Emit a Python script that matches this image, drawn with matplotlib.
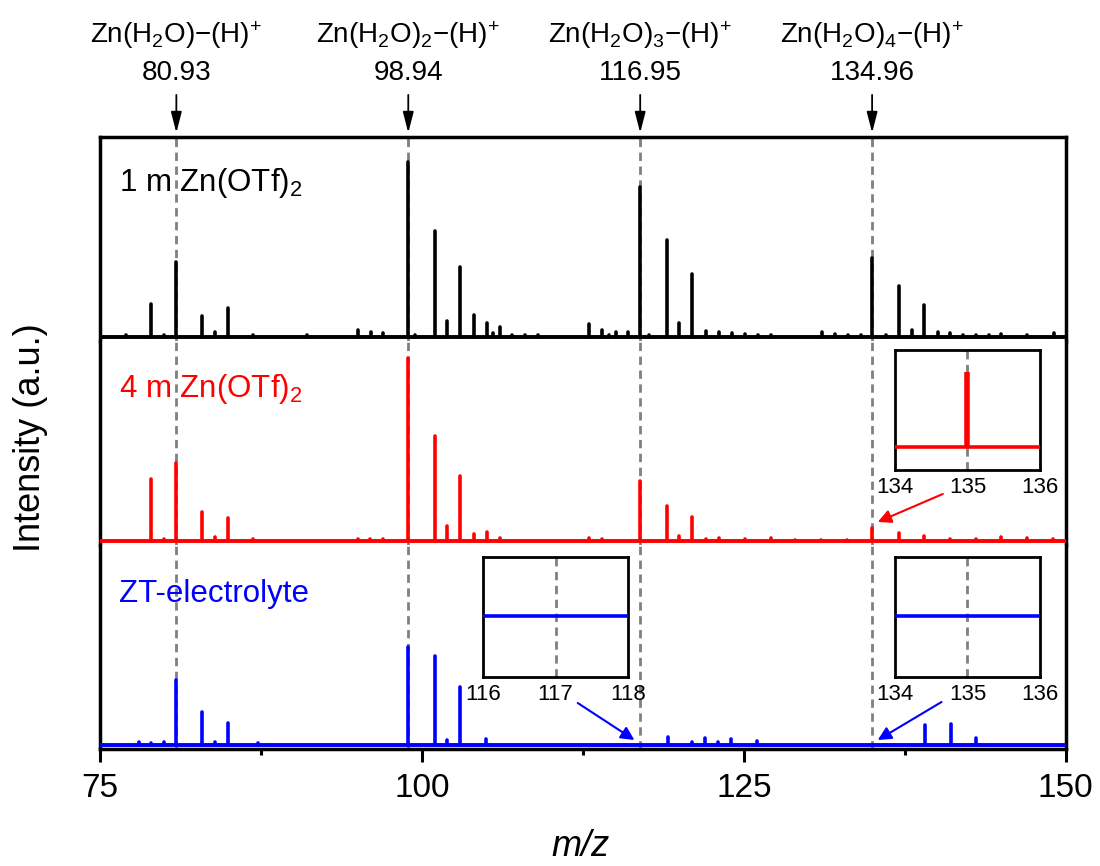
import matplotlib.pyplot as plt
from matplotlib.ticker import MultipleLocator

plt.rcParams['font.family'] = ['Liberation Sans', 'DejaVu Sans']
plt.rcParams['mathtext.fontset'] = 'custom'
plt.rcParams['mathtext.rm'] = 'Liberation Sans'
plt.rcParams['mathtext.it'] = 'Liberation Sans:italic'

# reference ions
ref_mz = [80.93, 98.94, 116.95, 134.96]
ref_labels = ['80.93', '98.94', '116.95', '134.96']
ion_names = ['Zn(H$_2$O)\u2212(H)$^{\\!+}$', 'Zn(H$_2$O)$_2$\u2212(H)$^{\\!+}$',
             'Zn(H$_2$O)$_3$\u2212(H)$^{\\!+}$', 'Zn(H$_2$O)$_4$\u2212(H)$^{\\!+}$']

# 1 m Zn(OTf)2
mz_1m = [77.0, 79.0, 80.0, 80.93, 82.95, 83.93, 84.91, 86.9, 91.05, 95.0,
         96.04, 97.0, 98.94, 99.5, 101.0, 101.97, 102.95, 104.04, 105.02, 105.5,
         106.03, 107.0, 108.0, 109.0, 112.99, 114.0, 114.5, 115.04, 116.02, 116.95,
         117.6, 119.0, 119.98, 121.0, 122.05, 123.06, 124.07, 125.08, 126.06, 127.07,
         131.08, 132.09, 133.07, 134.08, 134.96, 136.0, 137.01, 138.02, 139.0, 140.04,
         141.02, 142.03, 143.0, 144.0, 145.0, 147.0, 149.1]
int_1m = [1.5, 33, 1.5, 75, 21, 5, 29, 2, 1.5, 7,
          5, 4, 175, 2, 106, 16, 70, 22, 14, 4,
          10, 2, 2, 1.5, 13, 7, 2, 5, 5, 150,
          2, 97, 14, 63, 6, 5, 4, 3, 2, 1.5,
          5, 3, 2, 1.5, 79, 2, 51, 7, 32, 5,
          4, 2, 1.5, 1.5, 3, 2, 4]

# 4 m Zn(OTf)2
mz_4m = [79.0, 80.0, 80.93, 82.95, 83.93, 84.91, 86.9, 95.0, 96.0, 97.0,
         98.94, 101.0, 101.97, 102.95, 104.04, 105.02, 106.03, 113.0, 114.0, 116.95,
         119.0, 119.98, 121.0, 122.05, 123.06, 125.08, 127.07, 129.0, 131.0, 133.0,
         134.96, 137.01, 139.0, 141.02, 143.0, 145.0, 147.0, 149.0]
int_4m = [62, 2, 78, 29, 4, 23, 1.5, 2, 1.5, 1.5,
          183, 105, 15, 65, 7, 9, 3, 3, 2, 60,
          35, 5, 24, 2, 3, 1.5, 3, 1, 1, 1,
          13, 8, 5, 2, 2, 4, 3, 2]

# ZT-electrolyte
mz_zt = [78.0, 79.0, 79.97, 80.93, 82.95, 83.93, 84.91, 87.3, 98.94, 101.0,
         101.97, 102.95, 104.97, 119.12, 121.0, 122.0, 123.0, 124.0, 126.0, 139.05,
         141.05, 143.0]
int_zt = [3, 2, 3, 65, 33, 3, 22, 2, 98, 89,
          5, 58, 6, 8, 3, 7, 3, 6, 4, 20,
          21, 7]

# zoomed insets
inset_red_mz = [135.0]
inset_red_int = [75]

names = ['1 m Zn(OTf)$_2$', '4 m Zn(OTf)$_2$', 'ZT-electrolyte']
colors = ['black', '#ff0000', '#0000ff']
spectra = [(mz_1m, int_1m), (mz_4m, int_4m), (mz_zt, int_zt)]
label_y = [0.735, 0.724, 0.719]

fig = plt.figure(figsize=(11, 8.66), dpi=100)
left, width, h = 0.0909, 0.878, 0.2356
bottoms = [0.1351 + 2 * h, 0.1351 + h, 0.1351]
axes = [fig.add_axes([left, b, width, h]) for b in bottoms]

for i, ax in enumerate(axes):
    mz, inten = spectra[i]
    ax.set_xlim(75, 150)
    ax.set_ylim(-4, 200)
    ax.set_yticks([])
    for s in ax.spines.values():
        s.set_linewidth(2.5)
    if i > 0:
        ax.spines['top'].set_visible(False)
    if i < 2:
        ax.spines['bottom'].set_visible(False)
        ax.tick_params(bottom=False, labelbottom=False)
    for x in ref_mz:
        ax.axvline(x, color='#808080', ls=(0, (3, 2)), lw=2, zorder=1)
    ax.axhline(0, color=colors[i], lw=2.8, zorder=3)
    ax.vlines(mz, 0, inten, color=colors[i], lw=2.6, zorder=3, capstyle='round')
    ax.text(76.5, label_y[i], names[i], color=colors[i], fontsize=22.5,
            transform=ax.get_xaxis_transform(), ha='left', va='baseline')

ax = axes[2]
ax.xaxis.set_major_locator(MultipleLocator(25))
ax.xaxis.set_minor_locator(MultipleLocator(12.5))
ax.tick_params(which='major', direction='out', length=9, width=2.2, labelsize=24, pad=8)
ax.tick_params(which='minor', direction='out', length=4.5, width=2.2)

# top annotations
ax = axes[0]
tr = ax.get_xaxis_transform()
for x, lab, name in zip(ref_mz, ref_labels, ion_names):
    ax.annotate('', xy=(x, 1.02), xytext=(x, 1.206), xycoords=tr, textcoords=tr,
                arrowprops=dict(arrowstyle='-|>,head_length=0.7,head_width=0.18',
                                color='black', lw=1.3, shrinkA=0, shrinkB=0,
                                mutation_scale=18))
    ax.text(x, 1.314, lab, transform=tr, ha='center', va='center', fontsize=20)
    ax.text(x, 1.5, name, transform=tr, ha='center', va='center', fontsize=20)

# arrows to insets
axes[1].annotate('', xy=(135.4, 19), xytext=(140.45, 47),
                 arrowprops=dict(arrowstyle='-|>', color='#ff0000', lw=1.5,
                                 shrinkA=0, shrinkB=0, mutation_scale=20))
axes[2].annotate('', xy=(116.5, 5), xytext=(112.1, 42),
                 arrowprops=dict(arrowstyle='-|>', color='#0000ff', lw=1.5,
                                 shrinkA=0, shrinkB=0, mutation_scale=20))
axes[2].annotate('', xy=(135.4, 5), xytext=(140.35, 43),
                 arrowprops=dict(arrowstyle='-|>', color='#0000ff', lw=1.5,
                                 shrinkA=0, shrinkB=0, mutation_scale=20))


def make_inset(rect, lo, color, ylim):
    ia = fig.add_axes(rect)
    ia.set_xlim(lo, lo + 2)
    ia.set_ylim(*ylim)
    ia.set_xticks([lo, lo + 1, lo + 2])
    ia.set_yticks([])
    ia.tick_params(length=0, labelsize=16, pad=5)
    for s in ia.spines.values():
        s.set_linewidth(2)
    ia.axvline(lo + 1, color='#808080', ls=(0, (3, 2)), lw=2, zorder=1)
    ia.axhline(0, color=color, lw=2.6, zorder=3)
    return ia


ins_red = make_inset([0.8136, 0.4573, 0.1318, 0.1386], 134, '#ff0000', (-23, 97))
ins_red.vlines(inset_red_mz, 0, inset_red_int, color='#ff0000', lw=4, zorder=3)
make_inset([0.4391, 0.2182, 0.1318, 0.1386], 116, '#0000ff', (-61, 59))
make_inset([0.8136, 0.2182, 0.1318, 0.1386], 134, '#0000ff', (-61, 59))

fig.text(0.028, 0.495, 'Intensity (a.u.)', rotation=90, fontsize=26,
         ha='center', va='center')
fig.text(0.528, 0.022, 'm/z', fontstyle='italic', fontsize=26,
         ha='center', va='center')

fig.savefig('out.png', dpi=100)
